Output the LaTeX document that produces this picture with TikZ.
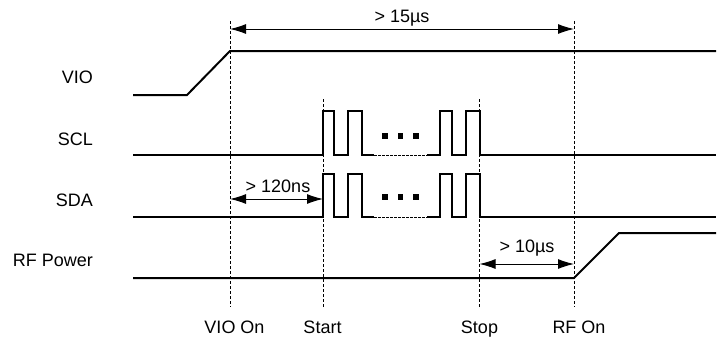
\documentclass[tikz,border=0pt]{standalone}
\usepackage{fontspec}
\setmainfont{Liberation Sans}
\usetikzlibrary{arrows.meta}
\begin{document}
\begin{tikzpicture}[x=1pt,y=-1pt,
  sig/.style={line width=2pt, line join=miter},
  gap/.style={line width=0.8pt, dash pattern=on 2.5pt off 1.5pt},
  guide/.style={line width=0.8pt, dash pattern=on 3pt off 2pt},
  dim/.style={line width=1pt, {Latex[length=16pt,width=10pt]}-{Latex[length=16pt,width=10pt]}},
  lbl/.style={font=\fontsize{18}{21}\selectfont, inner sep=0pt, anchor=base},
  sidelbl/.style={font=\fontsize{18}{21}\selectfont, inner sep=0pt, anchor=base east},
  dotsq/.style={fill=black, minimum size=5.5pt, inner sep=0pt}]
\useasboundingbox (0,0) rectangle (724,338);
% marker coordinates
\coordinate (vioT) at (230,21);  \coordinate (vioB) at (230,307);
\coordinate (rfT)  at (574,21);  \coordinate (rfB)  at (574,307);
\coordinate (stT)  at (323,99);  \coordinate (stB)  at (323,307);
\coordinate (spT)  at (479.5,99);\coordinate (spB)  at (479.5,307);
\draw[guide] (vioT) -- (vioB);
\draw[guide] (rfT) -- (rfB);
\draw[guide] (stT) -- (stB);
\draw[guide] (spT) -- (spB);
% signal labels
\node[sidelbl] (lvio) at (93,83.5) {VIO};
\node[sidelbl] (lscl) at (93,145) {SCL};
\node[sidelbl] (lsda) at (93,206) {SDA};
\node[sidelbl] (lrf)  at (93,266.5) {RF Power};
% VIO
\draw[sig] (133,95) -- (187,95) -- (230,51) -- (716,51);
% SCL and SDA
\foreach \lo/\hi/\dy/\nm in {155/111/136/scl, 217/174/197/sda}{
  \draw[sig] (133,\lo) -- (323,\lo) -- (323,\hi) -- (334,\hi) -- (334,\lo) -- (348,\lo) -- (348,\hi) -- (362,\hi) -- (362,\lo) -- (374,\lo);
  \draw[gap] (374,\lo) -- (427,\lo);
  \draw[sig] (427,\lo) -- (440,\lo) -- (440,\hi) -- (452,\hi) -- (452,\lo) -- (466,\lo) -- (466,\hi) -- (480,\hi) -- (480,\lo) -- (716,\lo);
  \node[dotsq] (\nm d1) at (385,\dy) {};
  \node[dotsq] (\nm d2) at (400.5,\dy) {};
  \node[dotsq] (\nm d3) at (416,\dy) {};
}
% RF Power
\draw[sig] (133,278) -- (574,278) -- (619,233) -- (716,233);
% dimension arrows
\coordinate (a15l) at (230,29); \coordinate (a15r) at (574,29);
\draw[dim] (a15l) -- (a15r);
\node[lbl] (t15) at (402,22) {> 15µs};
\coordinate (a120l) at (230,199); \coordinate (a120r) at (323,199);
\draw[dim] (a120l) -- (a120r);
\node[lbl] (t120) at (278,192.5) {> 120ns};
\coordinate (a10l) at (479.5,264); \coordinate (a10r) at (574,264);
\draw[dim] (a10l) -- (a10r);
\node[lbl] (t10) at (527,252) {> 10µs};
% bottom labels
\node[lbl] (bvio) at (234.5,333.5) {VIO On};
\node[lbl] (bst)  at (322.5,333.5) {Start};
\node[lbl] (bsp)  at (479.5,333.5) {Stop};
\node[lbl] (brf)  at (579,333.5) {RF On};
\end{tikzpicture}
\end{document}
